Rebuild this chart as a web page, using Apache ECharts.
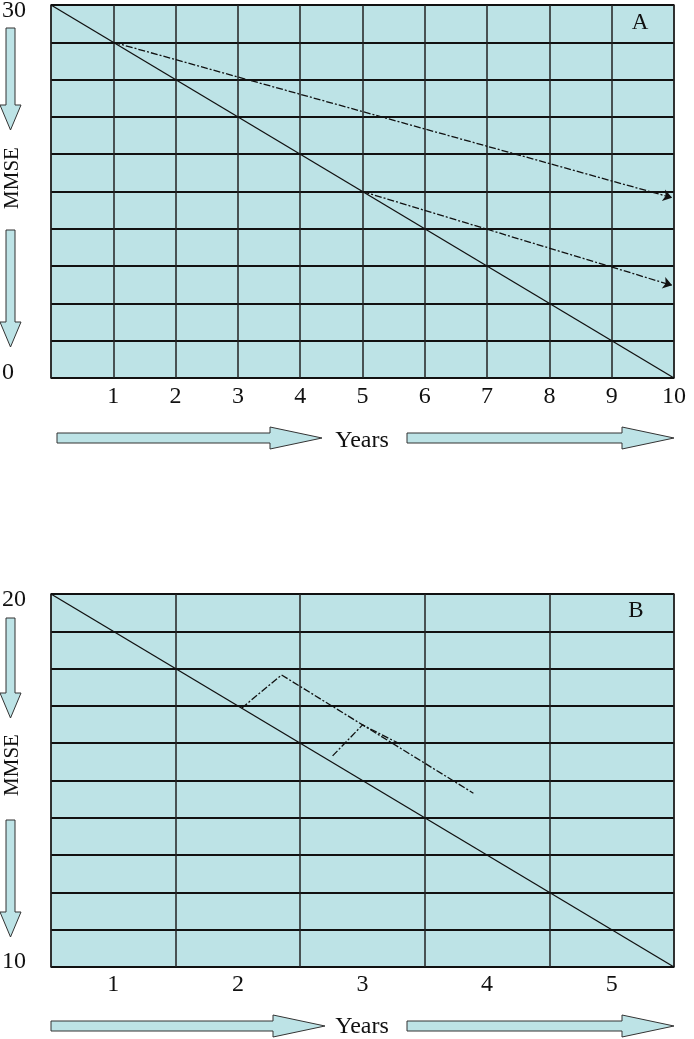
<!DOCTYPE html>
<html><head><meta charset="utf-8">
<script src="https://cdn.jsdelivr.net/npm/echarts@6/dist/echarts.min.js"></script>
<style>html,body{margin:0;padding:0;background:#fff}#c{width:694px;height:1039px}</style>
</head><body><div id="c"></div>
<script>
// ---- data ----
const xTicksA = ['1','2','3','4','5','6','7','8','9','10'];
const yTicksA = ['0','30'];
const diagA = [[0,30],[10,0]];
const trendA1 = [[1,27],[9.97,14.5]];
const trendA2 = [[5,15],[9.97,7.45]];

const yearsB = ['1','2','3','4','5'];
const yTicksB = ['10','20'];
const diagB = [[0.5,20],[5.5,10]];
const trendB1 = [[2.03,16.94],[2.35,17.83],[3.89,14.66]];
const trendB2 = [[2.76,15.66],[3.0,16.49],[3.3,15.98]];

const FONT = 'Liberation Serif';
const FILL = '#bde3e6';
const chart = echarts.init(document.getElementById('c'));

function yLabelFmt(ticks){
  return function(v){
    const s = String(v);
    if (s === ticks[1]) return '\n' + s;
    if (s === ticks[0]) return s + '\n';
    return '';
  };
}
function hArrow(x0, x1, yc){
  const bh = 5, hh = 11, hl = 52;
  return {type:'polygon', shape:{points:[[x0,yc-bh],[x1-hl,yc-bh],[x1-hl,yc-hh],[x1,yc],[x1-hl,yc+hh],[x1-hl,yc+bh],[x0,yc+bh]]},
    style:{fill:FILL, stroke:'#333', lineWidth:1}};
}
function vArrow(xc, y0, y1){
  const bw = 4.5, hw = 10.5, hl = 25;
  return {type:'polygon', shape:{points:[[xc-bw,y0],[xc+bw,y0],[xc+bw,y1-hl],[xc+hw,y1-hl],[xc,y1],[xc-hw,y1-hl],[xc-bw,y1-hl]]},
    style:{fill:FILL, stroke:'#333', lineWidth:1}};
}
function txt(x, y, t, size, rot){
  return {type:'text', x:x, y:y, rotation: rot||0,
    style:{text:t, font:size+'px "'+FONT+'"', fill:'#111', align:'center', verticalAlign:'middle'}};
}

const axisLabelStyle = {color:'#111', fontFamily:FONT, fontSize:24};
const hLine = {show:true, lineStyle:{color:'#111', width:2}};
const vLine = {show:true, lineStyle:{color:'#222', width:1.5}};
const dash = {color:'#111', width:1.3, type:[7,2,2,2], opacity:1};

chart.setOption({
  animation:false,
  grid:[
    {left:51, top:5, width:623, height:373, show:true, backgroundColor:FILL, borderColor:'#333', borderWidth:1.5, outerBoundsMode:'none', containLabel:false},
    {left:51, top:594, width:623, height:373, show:true, backgroundColor:FILL, borderColor:'#333', borderWidth:1.5, outerBoundsMode:'none', containLabel:false}
  ],
  xAxis:[
    {gridIndex:0, type:'value', min:0, max:10, interval:1, axisLine:{show:false}, axisTick:{show:false},
     splitLine:vLine,
     axisLabel:Object.assign({margin:7, formatter:v => (v>0 ? xTicksA[v-1] : '')}, axisLabelStyle)},
    {gridIndex:1, type:'category', data:yearsB, boundaryGap:true, axisLine:{show:false}, axisTick:{show:false},
     splitLine:Object.assign({interval:0}, vLine),
     axisLabel:Object.assign({margin:6, interval:0}, axisLabelStyle)},
    {gridIndex:1, type:'value', min:0.5, max:5.5, show:false}
  ],
  yAxis:[
    {gridIndex:0, type:'value', min:0, max:30, interval:3, axisLine:{show:false}, axisTick:{show:false},
     splitLine:hLine,
     axisLabel:Object.assign({margin:49, align:'left', lineHeight:11, formatter:yLabelFmt(yTicksA)}, axisLabelStyle)},
    {gridIndex:1, type:'value', min:10, max:20, interval:1, axisLine:{show:false}, axisTick:{show:false},
     splitLine:hLine,
     axisLabel:Object.assign({margin:49, align:'left', lineHeight:11, formatter:yLabelFmt(yTicksB)}, axisLabelStyle)}
  ],
  series:[
    {type:'line', xAxisIndex:0, yAxisIndex:0, data:diagA, showSymbol:false, lineStyle:{color:'#111', width:1.3}},
    {type:'lines', coordinateSystem:'cartesian2d', xAxisIndex:0, yAxisIndex:0, symbol:['none','arrow'], symbolSize:9,
     itemStyle:{color:'#111'}, lineStyle:dash, data:[{coords:trendA1},{coords:trendA2}]},
    {type:'line', xAxisIndex:2, yAxisIndex:1, data:diagB, showSymbol:false, lineStyle:{color:'#111', width:1.3}},
    {type:'line', xAxisIndex:2, yAxisIndex:1, data:trendB1, showSymbol:false, lineStyle:dash},
    {type:'line', xAxisIndex:2, yAxisIndex:1, data:trendB2, showSymbol:false, lineStyle:dash}
  ],
  graphic:[
    txt(640, 23, 'A', 23), txt(636, 611, 'B', 23),
    txt(362, 441, 'Years', 24), txt(362, 1027, 'Years', 24),
    hArrow(57, 322, 438), hArrow(407, 674, 438),
    hArrow(51, 325, 1026), hArrow(407, 674, 1026),
    txt(12, 178, 'MMSE', 21, Math.PI/2), txt(12, 765, 'MMSE', 21, Math.PI/2),
    vArrow(10.5, 28, 130), vArrow(10.5, 230, 347),
    vArrow(10.5, 618, 718), vArrow(10.5, 820, 937)
  ]
});
</script></body></html>
